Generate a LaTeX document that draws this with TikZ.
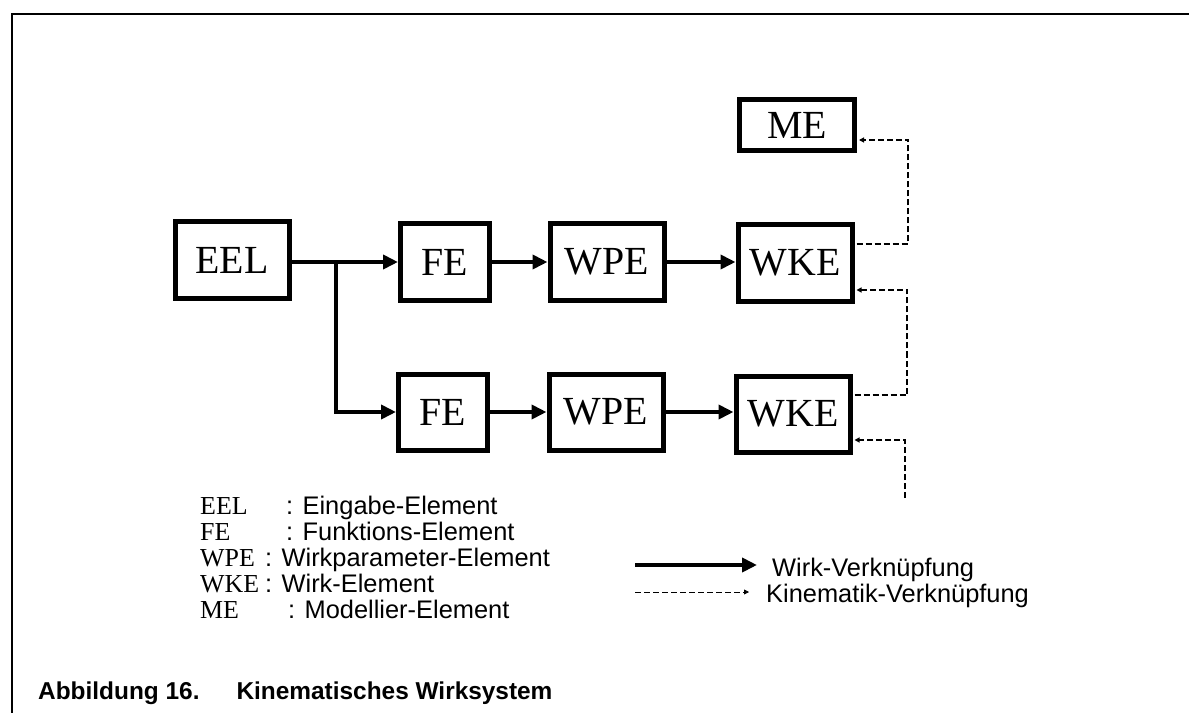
\documentclass[tikz,border=0pt]{standalone}
\usepackage{fontspec}
\setmainfont{Liberation Serif}
\setsansfont{Liberation Sans}
\usetikzlibrary{arrows.meta}
\begin{document}
\begin{tikzpicture}[x=1bp,y=-1bp,
  elem/.style={draw, line width=5bp, minimum height=76bp, inner sep=0pt, font=\fontsize{40}{42}\selectfont},
  wirk/.style={line width=4.5bp, -{Triangle[length=15bp,width=14bp]}},
  kin/.style={line width=1.1bp, dash pattern=on 6bp off 3bp, -{Triangle[length=5bp,width=5bp]}},
  abbr/.style={anchor=base west, font=\fontsize{26}{26}\selectfont, inner sep=0pt},
  desc/.style={anchor=base west, font=\sffamily\fontsize{25.5}{26}\selectfont, inner sep=0pt},
  frame/.style={line width=2bp}]
\useasboundingbox (0,0) rectangle (1189,713);
\coordinate (fa) at (12,713);
\coordinate (fb) at (12,14);
\coordinate (fc) at (1189,14);
\draw[frame] (fa) -- (fb) -- (fc);

% boxes
\node[elem, minimum width=114bp, minimum height=77bp] (eel) at (232,260) {EEL};
\node[elem, minimum width=89bp] (fe1) at (445,262) {FE};
\node[elem, minimum width=114bp] (wpe1) at (607,262) {WPE};
\node[elem, minimum width=114bp] (wke1) at (795,263) {WKE};
\node[elem, minimum width=89bp] (fe2) at (443,412) {FE};
\node[elem, minimum width=114bp] (wpe2) at (606,412) {WPE};
\node[elem, minimum width=114bp] (wke2) at (793,414) {WKE};
\node[elem, minimum width=115bp, minimum height=51bp] (me) at (797,125) {ME};

% Wirk connections
\coordinate (br) at (336,262);
\draw[wirk] (eel.east |- fe1.west) -- (fe1.west);
\draw[wirk] (br) |- (fe2);
\draw[wirk] (fe1) -- (wpe1.west |- fe1.east);
\draw[wirk] (wpe1) -- (wke1.west |- wpe1.east);
\draw[wirk] (fe2) -- (wpe2.west |- fe2.east);
\draw[wirk] (wpe2) -- (wke2.west |- wpe2.east);

% Kinematik connections
\coordinate (k1) at (908,140);
\coordinate (k2) at (907,290);
\coordinate (k3) at (905,498);
\draw[kin] ([shift={(2,-19)}]wke1.east) -| (k1) -- ([shift={(2,15)}]me.east);
\draw[kin] ([shift={(2,-19)}]wke2.east) -| (k2) -- ([shift={(2,27)}]wke1.east);
\draw[kin] (k3) |- ([shift={(2,26)}]wke2.east);

% legend left
\node[abbr] (l1a) at (200,514) {EEL};
\node[desc] (l1b) at (286,514) {: Eingabe-Element};
\node[abbr] (l2a) at (200,540) {FE};
\node[desc] (l2b) at (286,540) {: Funktions-Element};
\node[abbr] (l3a) at (200,566) {WPE};
\node[desc] (l3b) at (265,566) {: Wirkparameter-Element};
\node[abbr] (l4a) at (200,592) {WKE};
\node[desc] (l4b) at (265,592) {: Wirk-Element};
\node[abbr] (l5a) at (200,618) {ME};
\node[desc] (l5b) at (288,618) {: Modellier-Element};

% legend right
\coordinate (wa) at (635,565);
\coordinate (wb) at (757,565);
\draw[wirk] (wa) -- (wb);
\node[desc] (wl) at (772,576) {Wirk-Verknüpfung};
\coordinate (ka) at (635,592);
\coordinate (kb) at (749,592);
\draw[kin, line width=0.8bp] (ka) -- (kb);
\node[desc] (kl) at (766,602) {Kinematik-Verknüpfung};

% caption
\node[anchor=base west, inner sep=0pt, font=\sffamily\bfseries\fontsize{24.5}{26}\selectfont] (cap) at (38,699) {Abbildung 16.\hspace{37bp}Kinematisches Wirksystem};
\end{tikzpicture}
\end{document}
